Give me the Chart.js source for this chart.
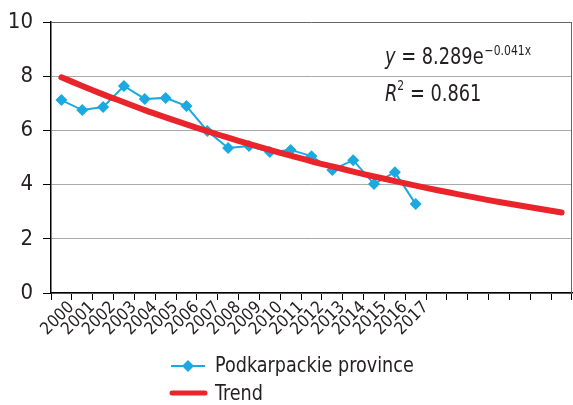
<!DOCTYPE html>
<html>
<head>
<meta charset="utf-8">
<script src="https://cdn.jsdelivr.net/npm/chart.js@4.4.1/dist/chart.umd.min.js"></script>
<style>
  html, body { margin: 0; padding: 0; background: #fff; overflow: hidden; }
  canvas { display: block; }
</style>
</head>
<body>
<canvas id="chart" width="573" height="405"></canvas>
<script>
"use strict";

// Chart data
const years = ['2000', '2001', '2002', '2003', '2004', '2005', '2006', '2007', '2008',
    '2009', '2010', '2011', '2012', '2013', '2014', '2015', '2016', '2017',
    '', '', '', '', '', '', ''];
const provinceValues = [7.12, 6.75, 6.86, 7.64, 7.16, 7.2, 6.9, 5.98, 5.35,
    5.42, 5.2, 5.28, 5.05, 4.54, 4.9, 4.02, 4.46, 3.28];
const trendValues = [7.96, 7.64, 7.33, 7.04, 6.75, 6.48, 6.22, 5.97, 5.73, 5.5,
    5.28, 5.07, 4.86, 4.67, 4.48, 4.3, 4.13, 3.96, 3.8, 3.65, 3.5, 3.36, 3.23, 3.1, 2.97];
const seriesNames = ['Podkarpackie province', 'Trend'];
const yMin = 0;
const yMax = 10;
const yStep = 2;

const FONT = '"Liberation Sans Narrow", "DejaVu Sans Condensed", "Arial Narrow", sans-serif';
const TEXT = '#231f20';
const BLUE = '#1ba9e1';
const RED = '#e9242b';

// draw text squeezed horizontally, to look like a condensed face
function narrowText(ctx, text, x, y, squeeze) {
    ctx.save();
    ctx.translate(x, y);
    ctx.scale(squeeze, 1);
    ctx.fillText(text, 0, 0);
    ctx.restore();
    return ctx.measureText(text).width * squeeze;
}

// Equation and R squared text in the plot area
const equationPlugin = {
    id: 'equation',
    afterDraw(chart) {
        const ctx = chart.ctx;
        const sq = 0.86;
        ctx.save();
        ctx.fillStyle = TEXT;
        ctx.textBaseline = 'alphabetic';
        ctx.textAlign = 'left';

        let x = 385;
        ctx.font = 'italic 23px ' + FONT;
        x += narrowText(ctx, 'y', x, 64, sq);
        ctx.font = '23px ' + FONT;
        x += narrowText(ctx, ' = 8.289e', x, 64, sq);
        ctx.font = '14px ' + FONT;
        narrowText(ctx, '\u22120.041x', x + 1, 55, sq);

        x = 385;
        ctx.font = 'italic 23px ' + FONT;
        x += narrowText(ctx, 'R', x, 101, sq);
        ctx.font = '14px ' + FONT;
        x += narrowText(ctx, '2', x, 90, sq);
        ctx.font = '23px ' + FONT;
        narrowText(ctx, ' = 0.861', x, 101, sq);
        ctx.restore();
    }
};

// Right border of the plot and the stacked legend under the chart
const framePlugin = {
    id: 'frame',
    afterDraw(chart) {
        const ctx = chart.ctx;
        const area = chart.chartArea;
        ctx.save();
        ctx.strokeStyle = '#666';
        ctx.lineWidth = 1;
        ctx.beginPath();
        ctx.moveTo(area.right - 0.5, area.top);
        ctx.lineTo(area.right - 0.5, area.bottom);
        ctx.stroke();

        // legend row 1
        ctx.strokeStyle = BLUE;
        ctx.lineWidth = 2;
        ctx.beginPath();
        ctx.moveTo(171, 366);
        ctx.lineTo(205, 366);
        ctx.stroke();
        ctx.fillStyle = BLUE;
        ctx.beginPath();
        ctx.moveTo(188, 360);
        ctx.lineTo(194, 366);
        ctx.lineTo(188, 372);
        ctx.lineTo(182, 366);
        ctx.closePath();
        ctx.fill();

        // legend row 2
        ctx.strokeStyle = RED;
        ctx.lineWidth = 5;
        ctx.lineCap = 'round';
        ctx.beginPath();
        ctx.moveTo(172, 393);
        ctx.lineTo(205, 393);
        ctx.stroke();

        ctx.fillStyle = TEXT;
        ctx.font = '22px ' + FONT;
        ctx.textBaseline = 'middle';
        narrowText(ctx, seriesNames[0], 215, 366, 0.89);
        narrowText(ctx, seriesNames[1], 215, 394, 0.89);
        ctx.restore();
    }
};

const data = {
    labels: years,
    datasets: [
        {
            label: seriesNames[0],
            data: provinceValues,
            borderColor: BLUE,
            backgroundColor: BLUE,
            borderWidth: 2,
            pointStyle: 'rectRot',
            pointRadius: 6,
            pointBackgroundColor: BLUE,
            pointBorderWidth: 0,
            order: 2
        },
        {
            label: seriesNames[1],
            data: trendValues,
            borderColor: RED,
            backgroundColor: RED,
            borderWidth: 6,
            borderCapStyle: 'round',
            pointRadius: 0,
            tension: 0.3,
            order: 1
        }
    ]
};

const config = {
    type: 'line',
    data: data,
    options: {
        responsive: false,
        animation: false,
        layout: {
            autoPadding: false,
            padding: { top: 22, right: 1, bottom: 0, left: 0 }
        },
        plugins: {
            legend: { display: false },
            tooltip: { enabled: false }
        },
        scales: {
            x: {
                offset: true,
                grid: {
                    offset: true,
                    drawOnChartArea: false,
                    color: '#000',
                    tickLength: 7
                },
                border: { color: '#000', width: 1.5 },
                ticks: {
                    autoSkip: false,
                    minRotation: 45,
                    maxRotation: 45,
                    labelOffset: 10,
                    padding: 0,
                    color: TEXT,
                    font: { family: FONT, size: 17, lineHeight: 0.8 }
                },
                afterFit: (scale) => { scale.height = 112; }
            },
            y: {
                min: yMin,
                max: yMax,
                ticks: {
                    stepSize: yStep,
                    padding: 10,
                    color: TEXT,
                    font: { family: FONT, size: 22 }
                },
                grid: {
                    color: (c) => c.tick && c.tick.value === yMax ? '#666' : '#aaa',
                    tickColor: '#000',
                    tickLength: 8
                },
                border: { color: '#000', width: 1.5 },
                afterFit: (scale) => {
                    scale.width = 51;
                    scale.paddingTop = 0;
                }
            }
        }
    },
    plugins: [equationPlugin, framePlugin]
};

const chart = new Chart(document.getElementById('chart').getContext('2d'), config);
</script>
</body>
</html>
